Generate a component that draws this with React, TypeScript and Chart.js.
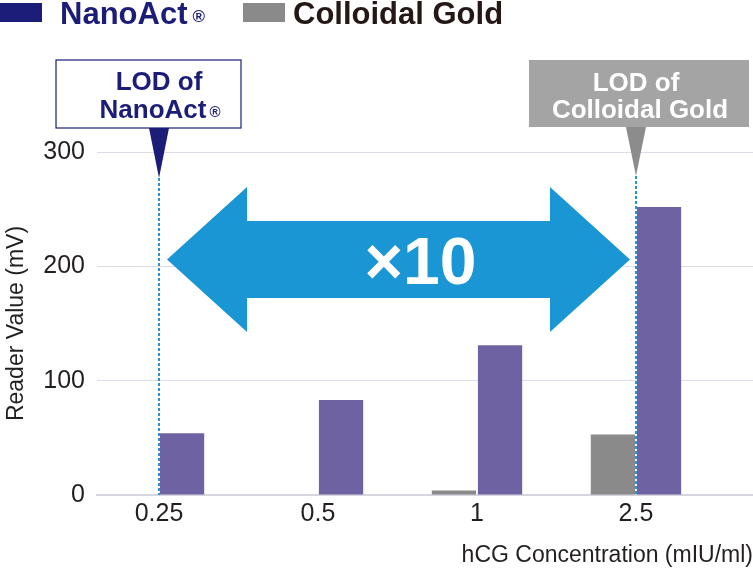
import React, { useEffect, useRef } from "react";
import { Chart, registerables } from "chart.js";

Chart.register(...registerables);

// ---- data ----
const categories = ["0.25", "0.5", "1", "2.5"];
const colloidalGold = [0, 0, 4, 53];
const nanoAct = [54, 83, 131, 252];
const yTickValues = [0, 100, 200, 300];
const seriesNames = ["Colloidal Gold", "NanoAct"];
const lodNanoActIndex = 0;
const lodGoldIndex = 3;
const arrowLevel = 206; // value level of the ×10 arrow centre
const foldLabel = "×10";
const xTitle = "hCG Concentration (mIU/ml)";
const yTitle = "Reader Value (mV)";

const FONT = "'Liberation Sans', Arial, Helvetica, sans-serif";
const NAVY = "#1c1d78";
const PURPLE = "#6e62a2";
const GRAY_BAR = "#8a8a8a";
const BLUE = "#1996d3";

const annotations = {
  id: "annotations",
  afterDatasetsDraw(chart: any) {
    const { ctx, scales, chartArea } = chart;
    const x = scales.x;
    const y = scales.y;
    const xa = x.getPixelForValue(lodNanoActIndex);
    const xb = x.getPixelForValue(lodGoldIndex);
    ctx.save();
    // dashed LOD lines
    ctx.strokeStyle = "#2a93d4";
    ctx.lineWidth = 2;
    ctx.setLineDash([3, 2]);
    ctx.beginPath();
    ctx.moveTo(xa, chartArea.top + 26);
    ctx.lineTo(xa, chartArea.bottom);
    ctx.moveTo(xb, chartArea.top + 24);
    ctx.lineTo(xb, chartArea.bottom);
    ctx.stroke();
    ctx.setLineDash([]);

    // double arrow
    const cy = y.getPixelForValue(arrowLevel);
    const L = xa + 8;
    const R = xb - 6;
    const head = 80;
    const sh = 38.5;
    const hh = 72.5;
    ctx.fillStyle = BLUE;
    ctx.beginPath();
    ctx.moveTo(L, cy);
    ctx.lineTo(L + head, cy - hh);
    ctx.lineTo(L + head, cy - sh);
    ctx.lineTo(R - head, cy - sh);
    ctx.lineTo(R - head, cy - hh);
    ctx.lineTo(R, cy);
    ctx.lineTo(R - head, cy + hh);
    ctx.lineTo(R - head, cy + sh);
    ctx.lineTo(L + head, cy + sh);
    ctx.lineTo(L + head, cy + hh);
    ctx.closePath();
    ctx.fill();

    ctx.fillStyle = "#ffffff";
    ctx.font = `bold 66px ${FONT}`;
    ctx.textAlign = "center";
    ctx.textBaseline = "alphabetic";
    ctx.fillText(foldLabel, (L + R) / 2 + 22, cy + 25);
    ctx.restore();
  },
  afterDraw(chart: any) {
    const { ctx, scales, chartArea } = chart;
    const x = scales.x;
    const xa = x.getPixelForValue(lodNanoActIndex);
    const xb = x.getPixelForValue(lodGoldIndex);
    ctx.save();
    ctx.textBaseline = "alphabetic";

    // ---- legend ----
    ctx.fillStyle = NAVY;
    ctx.fillRect(0, 3, 42, 19);
    ctx.font = `bold 31px ${FONT}`;
    ctx.textAlign = "left";
    ctx.fillText(seriesNames[1], 60, 24);
    const w1 = ctx.measureText(seriesNames[1]).width;
    ctx.font = `bold 17px ${FONT}`;
    ctx.fillText("®", 60 + w1 + 5, 22);
    ctx.fillStyle = GRAY_BAR;
    ctx.fillRect(243, 3, 42, 19);
    ctx.fillStyle = "#231815";
    ctx.font = `bold 31px ${FONT}`;
    ctx.fillText(seriesNames[0], 293, 24);

    // ---- LOD of NanoAct box ----
    const top = chartArea.top - 92;
    const bottom = chartArea.top - 24;
    ctx.fillStyle = "#ffffff";
    ctx.fillRect(xa - 103, top, 185, bottom - top);
    ctx.strokeStyle = NAVY;
    ctx.lineWidth = 1.2;
    ctx.strokeRect(xa - 103, top, 185, bottom - top);
    ctx.fillStyle = NAVY;
    ctx.beginPath();
    ctx.moveTo(xa - 10, bottom);
    ctx.lineTo(xa + 10, bottom);
    ctx.lineTo(xa, chartArea.top + 26);
    ctx.closePath();
    ctx.fill();
    ctx.font = `bold 26px ${FONT}`;
    ctx.textAlign = "center";
    ctx.fillText("LOD of", xa, top + 30);
    const nw = ctx.measureText("NanoAct").width;
    ctx.font = `bold 15px ${FONT}`;
    const rw = ctx.measureText("®").width;
    const total = nw + 3 + rw;
    ctx.textAlign = "left";
    ctx.font = `bold 26px ${FONT}`;
    ctx.fillText("NanoAct", xa - total / 2 + 1, top + 58);
    ctx.font = `bold 15px ${FONT}`;
    ctx.fillText("®", xa - total / 2 + 1 + nw + 3, top + 57);

    // ---- LOD of Colloidal Gold box ----
    const gb = chartArea.top - 25;
    ctx.fillStyle = "#a4a4a4";
    ctx.fillRect(xb - 107, top, 220, gb - top);
    ctx.fillStyle = "#8c8c8c";
    ctx.beginPath();
    ctx.moveTo(xb - 10, gb);
    ctx.lineTo(xb + 10, gb);
    ctx.lineTo(xb, chartArea.top + 24);
    ctx.closePath();
    ctx.fill();
    ctx.fillStyle = "#ffffff";
    ctx.font = `bold 26px ${FONT}`;
    ctx.textAlign = "center";
    ctx.fillText("LOD of", xb, top + 31);
    ctx.fillText(seriesNames[0], xb + 4, top + 58);
    ctx.restore();
  },
};

export default function App() {
  const canvasRef = useRef<HTMLCanvasElement | null>(null);

  useEffect(() => {
    const canvas = canvasRef.current;
    if (!canvas) return;
    const chart = new Chart(canvas, {
      type: "bar",
      data: {
        datasets: [
          {
            label: seriesNames[0],
            data: colloidalGold.map((v, i) => ({ x: i, y: v })),
            backgroundColor: GRAY_BAR,
            borderWidth: 0,
          },
          {
            label: seriesNames[1],
            data: nanoAct.map((v, i) => ({ x: i, y: v })),
            backgroundColor: PURPLE,
            borderWidth: 0,
          },
        ],
      },
      plugins: [annotations],
      options: {
        responsive: false,
        animation: false,
        events: [],
        categoryPercentage: 0.58,
        barPercentage: 0.96,
        layout: { padding: { top: 152, left: 0, right: 0, bottom: 0 } },
        plugins: {
          legend: { display: false },
          tooltip: { enabled: false },
          title: { display: false },
        },
        scales: {
          x: {
            type: "linear",
            offset: false,
            min: -0.39,
            max: 3.736,
            afterBuildTicks: (scale: any) => {
              scale.ticks = categories.map((_, i) => ({ value: i }));
            },
            afterFit: (scale: any) => {
              scale.height = 75;
            },
            grid: { display: false, drawTicks: false },
            border: { display: true, color: "#d6d6df", width: 2 },
            ticks: {
              autoSkip: false,
              maxRotation: 0,
              padding: 4,
              color: "#231f20",
              font: { family: FONT, size: 25 },
              callback: (v: any) => categories[v] ?? "",
            },
            title: {
              display: true,
              text: xTitle,
              align: "end",
              color: "#231f20",
              font: { family: FONT, size: 23 },
              padding: { top: 0, bottom: 1 },
            },
          },
          y: {
            type: "linear",
            min: 0,
            max: 300,
            afterBuildTicks: (scale: any) => {
              scale.ticks = yTickValues.map((v) => ({ value: v }));
            },
            afterFit: (scale: any) => {
              scale.width = 97;
            },
            grid: { color: "#dddce9", lineWidth: 1, drawTicks: false },
            border: { display: false },
            ticks: {
              padding: 12,
              color: "#231f20",
              font: { family: FONT, size: 25 },
            },
            title: {
              display: true,
              text: yTitle,
              color: "#231f20",
              font: { family: FONT, size: 23 },
              padding: { top: 3, bottom: 0 },
            },
          },
        },
      },
    } as any);
    return () => chart.destroy();
  }, []);

  return (
    <div style={{ position: "absolute", left: 0, top: 0, width: 753, height: 570, background: "#fff" }}>
      <canvas ref={canvasRef} width={753} height={570} />
    </div>
  );
}
